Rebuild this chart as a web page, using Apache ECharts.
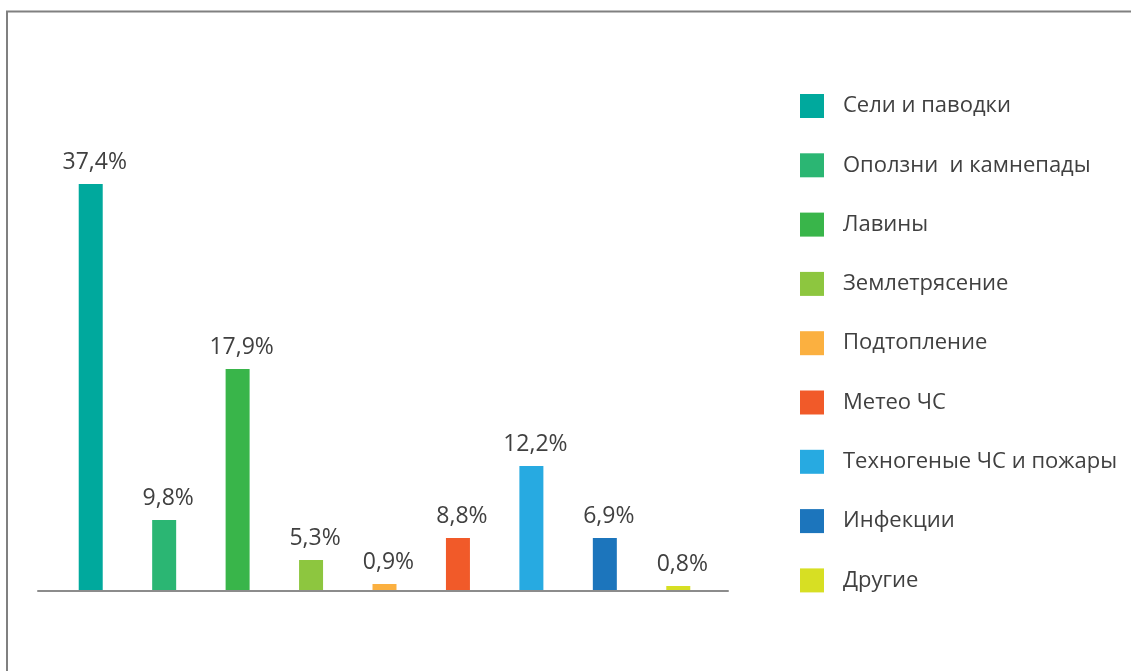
<!DOCTYPE html>
<html>
<head>
<meta charset="utf-8">
<script src="https://cdn.jsdelivr.net/npm/echarts@6/dist/echarts.min.js"></script>
<style>
  html, body { margin: 0; padding: 0; background: #fff; }
  #main { width: 1131px; height: 671px; }
</style>
</head>
<body>
<div id="main"></div>
<script>
// категории
const categories = [
    'Сели и паводки',
    'Оползни  и камнепады',
    'Лавины',
    'Землетрясение',
    'Подтопление',
    'Метео ЧС',
    'Техногеные ЧС и пожары',
    'Инфекции',
    'Другие'
]
// высоты столбиков
const barValues = [40.6, 7.0, 22.1, 3.0, 0.6, 5.2, 12.4, 5.2, 0.4]
// подписи над столбиками
const labelTexts = ['37,4%', '9,8%', '17,9%', '5,3%', '0,9%', '8,8%', '12,2%', '6,9%', '0,8%']
const colors = ['#00a99d', '#2bb673', '#39b54a', '#8dc63f', '#fbb040', '#f15a29', '#27aae1', '#1c75bc', '#d7df23']

const chartDom = document.getElementById('main')
const myChart = echarts.init(chartDom)

const font = '"Open Sans", "Noto Sans", sans-serif'

// каждая категория - своя серия, чтобы была легенда
const series = categories.map((name, i) => ({
    name: name,
    type: 'bar',
    stack: 'all',
    barWidth: 24,
    itemStyle: { color: colors[i] },
    label: {
        show: true,
        position: 'top',
        distance: 10,
        offset: [4, 0],
        color: '#404040',
        fontSize: 23,
        fontFamily: font,
        formatter: p => labelTexts[p.dataIndex]
    },
    data: barValues.map((v, j) => (j === i ? v : '-'))
}))

const option = {
    animation: false,
    textStyle: { fontFamily: font },
    graphic: [
        {
            type: 'rect',
            shape: { x: 7, y: 11.5, width: 1300, height: 800 },
            style: { fill: 'none', stroke: '#808080', lineWidth: 2 },
            silent: true
        }
    ],
    legend: {
        orient: 'vertical',
        left: 800,
        top: 94,
        padding: 0,
        icon: 'rect',
        itemWidth: 24,
        itemHeight: 24,
        itemGap: 35.3,
        textStyle: { color: '#404040', fontSize: 22, lineHeight: 24, fontFamily: font, padding: [0, 0, 0, 14] },
        data: categories
    },
    grid: [
        { left: 54, width: 661, top: 90, bottom: 81 },
        { left: 38, width: 690, top: 90, bottom: 80 }
    ],
    xAxis: [
        {
            type: 'category',
            gridIndex: 0,
            data: categories,
            axisLine: { show: false },
            axisTick: { show: false },
            axisLabel: { show: false }
        },
        {
            type: 'value',
            gridIndex: 1,
            min: 0,
            max: 1,
            axisLine: { show: true, lineStyle: { color: '#8c8c8c', width: 2 } },
            axisTick: { show: false },
            axisLabel: { show: false },
            splitLine: { show: false }
        }
    ],
    yAxis: [
        { type: 'value', gridIndex: 0, min: 0, max: 50, show: false },
        { type: 'value', gridIndex: 1, show: false }
    ],
    series: series
}

myChart.setOption(option)
</script>
</body>
</html>
